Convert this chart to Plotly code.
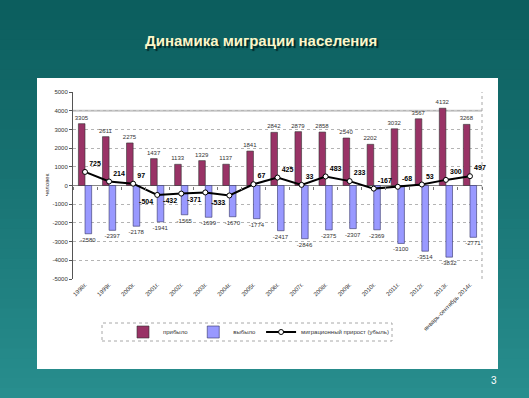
import plotly.graph_objects as go

categories = ["1998г.", "1999г.", "2000г.", "2001г.", "2002г.", "2003г.", "2004г.",
              "2005г.", "2006г.", "2007г.", "2008г.", "2009г.", "2010г.", "2011г.",
              "2012г.", "2013г.", "январь-сентябрь 2014г."]
arrived = [3305, 2611, 2275, 1437, 1133, 1329, 1137, 1841, 2842, 2879, 2858, 2540,
           2202, 3032, 3567, 4132, 3268]
departed = [-2580, -2397, -2178, -1941, -1565, -1699, -1670, -1774, -2417, -2846,
            -2375, -2307, -2369, -3100, -3514, -3832, -2771]
net = [725, 214, 97, -504, -432, -371, -533, 67, 425, 33, 483, 233, -167, -68, 53,
       300, 497]
y_ticks = [5000, 4000, 3000, 2000, 1000, 0, -1000, -2000, -3000, -4000, -5000]

W, H = 529, 398
L, R, T, B = 73, 482, 92, 279


def fx(p):
    return (p - L) / (R - L)


def fy(p):
    return (B - p) / (B - T)


FONT = "Liberation Sans, Arial, sans-serif"

fig = go.Figure()

fig.add_trace(go.Bar(
    x=categories, y=arrived, name="прибыло",
    marker=dict(color="#993366", line=dict(color="#333333", width=0.6)),
    text=[str(v) for v in arrived], textposition="outside", constraintext="none",
    textfont=dict(size=6, color="#333333", family=FONT),
    cliponaxis=False,
))
fig.add_trace(go.Bar(
    x=categories, y=departed, name="выбыло",
    marker=dict(color="#9999ff", line=dict(color="#333366", width=0.6)),
    text=[str(v) for v in departed], textposition="outside", constraintext="none",
    textfont=dict(size=6, color="#333333", family=FONT),
    cliponaxis=False,
))
net_pos = ["top right"] * 3 + ["bottom left"] * 4 + ["top right"] * 10
fig.add_trace(go.Scatter(
    x=categories, y=net, name="миграционный прирост (убыль)",
    mode="lines+markers+text",
    line=dict(color="black", width=2),
    marker=dict(symbol="circle", size=5, color="white",
                line=dict(color="black", width=1)),
    text=[str(v) for v in net], textposition=net_pos,
    textfont=dict(size=7, color="black", family=FONT, weight="bold"),
    cliponaxis=False,
))
# zero-line category ticks
fig.add_trace(go.Scatter(
    x=categories, y=[None] * len(categories), xaxis="x2", yaxis="y",
    showlegend=False, hoverinfo="skip", mode="markers",
))

shapes = []
# background gradient
n = 40
top = (12, 94, 94)
bot = (40, 142, 142)
for i in range(n):
    t = i / (n - 1)
    c = tuple(int(top[k] + (bot[k] - top[k]) * t) for k in range(3))
    y0 = H * i / n
    y1 = H * (i + 1) / n + 1
    shapes.append(dict(type="rect", xref="paper", yref="paper",
                       x0=fx(-2), x1=fx(W + 2), y0=fy(y1), y1=fy(y0),
                       fillcolor="rgb(%d,%d,%d)" % c, line=dict(width=0),
                       layer="below"))
# white panel
shapes.append(dict(type="rect", xref="paper", yref="paper",
                   x0=fx(37), x1=fx(498), y0=fy(369), y1=fy(78),
                   fillcolor="white", line=dict(width=0), layer="below"))
# solid light line at 4000
shapes.append(dict(type="line", xref="paper", yref="y", x0=0, x1=1, y0=4000, y1=4000,
                   line=dict(color="#c8c8c8", width=2), layer="below"))
# plot right border (dotted)
shapes.append(dict(type="line", xref="paper", yref="paper", x0=1, x1=1, y0=0, y1=1,
                   line=dict(color="#a8a8a8", width=1, dash="dot"), layer="below"))
# legend box
shapes.append(dict(type="rect", xref="paper", yref="paper",
                   x0=fx(102), x1=fx(392), y0=fy(341), y1=fy(323),
                   fillcolor="rgba(0,0,0,0)", line=dict(color="#a8a8a8", width=1, dash="dot")))

annotations = [
    dict(text="Динамика миграции населения", xref="paper", yref="paper",
         x=fx(261), y=fy(40), showarrow=False, xanchor="center", yanchor="middle",
         font=dict(size=15, color="#fcf6c8", family=FONT, weight="bold",
                   shadow="2px 2px 1px #002a2a")),
    dict(text="человек", xref="paper", yref="paper", x=fx(47), y=fy(185),
         showarrow=False, textangle=-90, xanchor="center", yanchor="middle",
         font=dict(size=6, color="#333333", family=FONT)),
    dict(text="3", xref="paper", yref="paper", x=fx(494), y=fy(380),
         showarrow=False, xanchor="center", yanchor="middle",
         font=dict(size=10, color="white", family=FONT)),
]

fig.update_layout(
    width=W, height=H,
    margin=dict(l=L, r=W - R, t=T, b=H - B, pad=0),
    paper_bgcolor="#136a6a", plot_bgcolor="rgba(0,0,0,0)",
    barmode="group", bargap=0.45, bargroupgap=0,
    showlegend=True,
    legend=dict(orientation="h", x=fx(123), y=fy(332), xanchor="left", yanchor="middle",
                font=dict(size=6, color="#333333", family=FONT),
                bgcolor="rgba(0,0,0,0)", itemwidth=30, traceorder="normal"),
    xaxis=dict(type="category", tickangle=-45, showgrid=False, showline=False,
               tickfont=dict(size=6, color="#333333", family=FONT),
               ticks="", zeroline=False, range=[-0.5, 16.5]),
    xaxis2=dict(type="category", overlaying="x", matches="x", anchor="free",
                position=0.5, showticklabels=False, ticks="outside", ticklen=3,
                tickcolor="#777777", tickson="boundaries", showgrid=False,
                showline=False, zeroline=False, side="bottom"),
    yaxis=dict(range=[-5000, 5000], tickvals=y_ticks,
               ticktext=[str(v) for v in y_ticks],
               tickfont=dict(size=6, color="#333333", family=FONT),
               ticks="outside", ticklen=3, tickcolor="#555555",
               showline=True, linecolor="#555555", linewidth=1,
               showgrid=True, gridcolor="#b4b4b4", griddash="dot", gridwidth=1,
               zeroline=True, zerolinecolor="#888888", zerolinewidth=1),
    shapes=shapes, annotations=annotations,
)

fig.write_html("out.html", config={"displayModeBar": False},
               post_script="document.body.style.margin='0';document.body.style.overflow='hidden';")
